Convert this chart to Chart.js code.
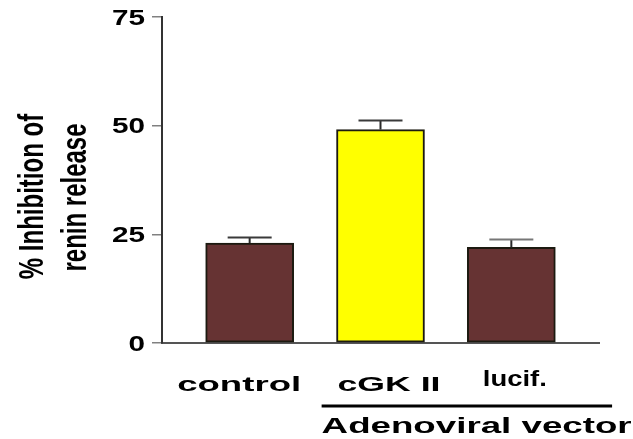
<!DOCTYPE html>
<html>
<head>
<meta charset="utf-8">
<title>Inhibition of renin release</title>
<script src="https://cdn.jsdelivr.net/npm/chart.js@4/dist/chart.umd.min.js"></script>
<style>
  html, body { margin: 0; padding: 0; background: #ffffff; }
  #wrap { width: 633px; height: 439px; position: relative; }
</style>
</head>
<body>
<div id="wrap"><canvas id="chart"></canvas></div>
<script>
// Data
const CATEGORIES = ['control', 'cGK II', 'lucif.'];
const INHIBITION = [23.0, 49.1, 22.0];   // % inhibition of renin release
const SEM = [1.3, 2.1, 1.8];             // error bar (upper) size
const Y_TICKS = [0, 25, 50, 75];
const GROUP_LABEL = 'Adenoviral vector';
const Y_TITLE = ['% Inhibition of', 'renin release'];

// Styles
const BAR_COLORS = ['#663333', '#ffff00', '#663333'];
const CAP_COLORS = ['#3a3a3a', '#3a3a3a', '#777777'];
const FONT_FAMILY = '"Liberation Sans", Arial, Helvetica, sans-serif';

// Category label layout: offset from bar centre, baseline below axis, font size, drawn width
const CAT_LAYOUT = [
  { dx: -10.5, dy: 47.7, size: 21, w: 124 },
  { dx: 8.5, dy: 48.0, size: 21, w: 103 },
  { dx: 3.5, dy: 43.0, size: 22.5, w: 64 }
];

function setFont(ctx, size) {
  ctx.font = 'bold ' + size + 'px ' + FONT_FAMILY;
}

// Draws text with a horizontal stretch factor sx
function wideText(ctx, text, x, y, size, sx, align) {
  ctx.save();
  setFont(ctx, size);
  ctx.translate(x, y);
  ctx.scale(sx, 1);
  ctx.textAlign = align;
  ctx.textBaseline = 'alphabetic';
  ctx.fillStyle = '#000000';
  ctx.fillText(text, 0, 0);
  ctx.restore();
}

function fitText(ctx, text, x, y, size, width, align) {
  setFont(ctx, size);
  const natural = ctx.measureText(text).width;
  wideText(ctx, text, x, y, size, width / natural, align);
}

const errorBars = {
  id: 'errorBars',
  afterDatasetsDraw(chart) {
    const ctx = chart.ctx;
    const xs = chart.scales.x, ys = chart.scales.y;
    ctx.save();
    ctx.lineWidth = 2;
    INHIBITION.forEach((v, i) => {
      const x = xs.getPixelForValue(i);
      const yb = ys.getPixelForValue(v);
      const yt = ys.getPixelForValue(v + SEM[i]);
      ctx.strokeStyle = '#2a2a2a';
      ctx.beginPath();
      ctx.moveTo(x, yb);
      ctx.lineTo(x, yt);
      ctx.stroke();
      ctx.strokeStyle = CAP_COLORS[i];
      ctx.beginPath();
      ctx.moveTo(x - 22, yt);
      ctx.lineTo(x + 22, yt);
      ctx.stroke();
    });
    ctx.restore();
  }
};

const textLayer = {
  id: 'textLayer',
  afterDraw(chart) {
    const ctx = chart.ctx;
    const xs = chart.scales.x, ys = chart.scales.y;
    const area = chart.chartArea;

    // y tick labels
    Y_TICKS.forEach(t => {
      const y = ys.getPixelForValue(t);
      wideText(ctx, String(t), area.left - 17, y + 7.8, 22, 1.35, 'right');
    });

    // category labels
    CATEGORIES.forEach((c, i) => {
      const L = CAT_LAYOUT[i];
      fitText(ctx, c, xs.getPixelForValue(i) + L.dx, area.bottom + L.dy, L.size, L.w, 'center');
    });

    // group bracket and label
    const gx0 = xs.getPixelForValue(0.55);
    const gx1 = xs.getPixelForValue(2.77);
    ctx.save();
    ctx.strokeStyle = '#000000';
    ctx.lineWidth = 3;
    ctx.beginPath();
    ctx.moveTo(gx0, area.bottom + 63);
    ctx.lineTo(gx1, area.bottom + 63);
    ctx.stroke();
    ctx.restore();
    fitText(ctx, GROUP_LABEL, gx0, area.bottom + 89.7, 22, 310, 'left');

    // rotated y-axis title (two lines)
    const cy = (area.top + area.bottom) / 2;
    const baselines = [43, 86];
    Y_TITLE.forEach((line, k) => {
      ctx.save();
      setFont(ctx, 24);
      ctx.translate(baselines[k], cy + 16.5 + k);
      ctx.rotate(-Math.PI / 2);
      ctx.scale(1, 1.45);
      ctx.textAlign = 'center';
      ctx.textBaseline = 'alphabetic';
      ctx.fillStyle = '#000000';
      ctx.fillText(line, 0, 0);
      ctx.restore();
    });
  }
};

new Chart(document.getElementById('chart'), {
  type: 'bar',
  data: {
    datasets: [{
      label: '% Inhibition of renin release',
      data: INHIBITION.map((v, i) => ({ x: i, y: v })),
      backgroundColor: BAR_COLORS,
      borderColor: '#1c1a10',
      borderWidth: 2,
      borderSkipped: false,
      barThickness: 88
    }]
  },
  options: {
    responsive: true,
    maintainAspectRatio: false,
    animation: false,
    events: [],
    layout: { padding: { left: 0, top: 17, right: 34, bottom: 96 } },
    plugins: {
      legend: { display: false },
      tooltip: { enabled: false }
    },
    scales: {
      x: {
        type: 'linear',
        offset: false,
        min: -0.67,
        max: 2.67,
        grid: { display: false, offset: false },
        ticks: { display: false },
        border: { display: true, color: '#555555', width: 2 },
        afterFit(s) { s.height = 0; }
      },
      y: {
        min: 0,
        max: 75,
        afterBuildTicks(s) { s.ticks = Y_TICKS.map(v => ({ value: v })); },
        ticks: { display: false },
        grid: {
          display: true,
          drawOnChartArea: false,
          drawTicks: true,
          tickLength: 10,
          color: '#808080',
          lineWidth: 1.5
        },
        border: { display: true, color: '#333333', width: 2 },
        afterFit(s) { s.width = 162; }
      }
    }
  },
  plugins: [errorBars, textLayer]
});
</script>
</body>
</html>
